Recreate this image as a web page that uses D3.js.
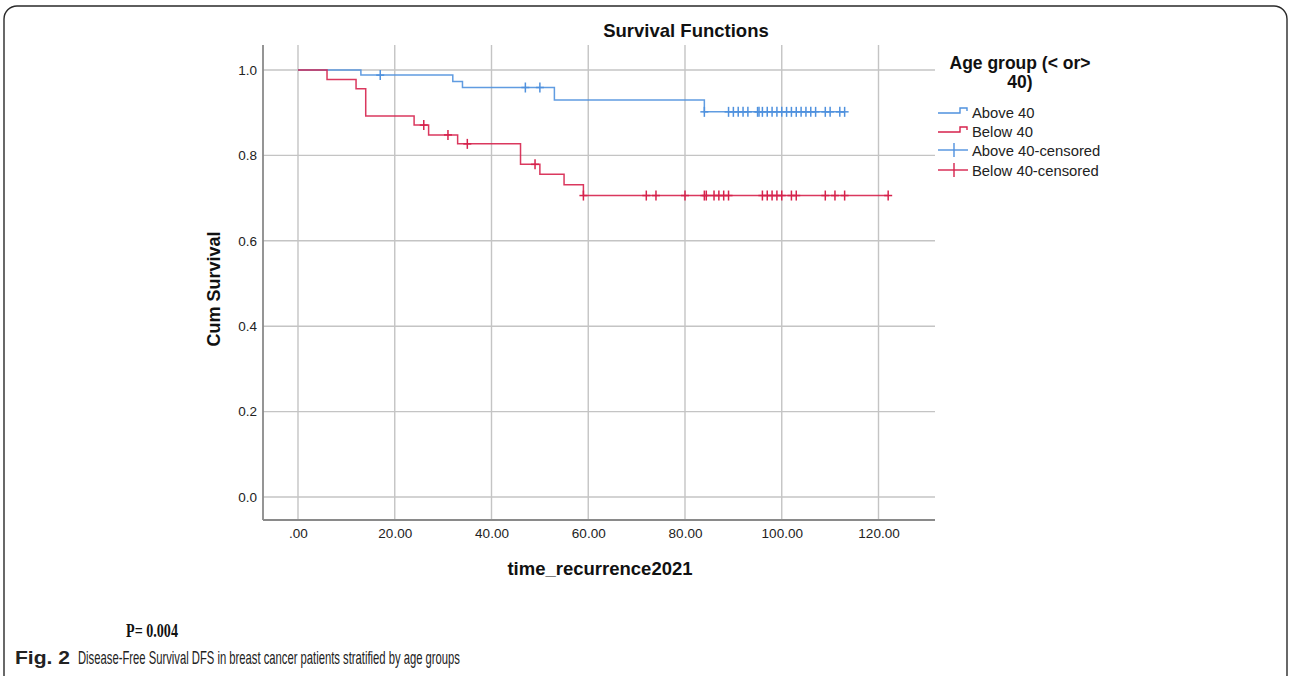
<!DOCTYPE html>
<html>
<head>
<meta charset="utf-8">
<script src="https://cdn.jsdelivr.net/npm/d3@7"></script>
<style>
  html, body { margin: 0; padding: 0; background: #fff; }
  svg { display: block; }
</style>
</head>
<body>
<svg id="chart" width="1290" height="676"></svg>
<script>
// ---------- data ----------
const xTicks = [0, 20, 40, 60, 80, 100, 120];
const xTickLabels = [".00", "20.00", "40.00", "60.00", "80.00", "100.00", "120.00"];
const yTicks = [0, 0.2, 0.4, 0.6, 0.8, 1.0];
const yTickLabels = ["0.0", "0.2", "0.4", "0.6", "0.8", "1.0"];

const aboveTimes = [0, 13, 32, 34, 53, 84];
const aboveSurv  = [1.0, 0.988, 0.973, 0.959, 0.930, 0.902];
const aboveCensored = [17, 47, 50, 84, 89, 90, 91, 92, 93, 95, 95.3, 96, 97, 98, 99, 100, 101, 102, 103, 104, 105, 106, 107, 109, 110, 112, 113];

const belowTimes = [0, 6, 12, 14, 24, 27, 33, 46, 50, 55, 59];
const belowSurv  = [1.0, 0.978, 0.956, 0.892, 0.871, 0.848, 0.827, 0.779, 0.756, 0.731, 0.706];
const belowCensored = [26, 31, 35, 49, 59, 72, 74, 80, 84, 84.4, 86, 87, 88, 89, 96, 97, 98, 99, 100, 102, 103, 109, 111, 113, 122];

const legendTitle = ["Age group (< or>", "40)"];
const legendLabels = ["Above 40", "Below 40", "Above 40-censored", "Below 40-censored"];

// ---------- styles ----------
const BLUE = "#4f91de";
const RED = "#d6224c";
const GRID = "#c4c4c4";
const AXIS = "#8a8a8a";
const FONT = "'Liberation Sans', Arial, sans-serif";

const svg = d3.select("#chart");

// card border
svg.append("rect")
  .attr("x", 4).attr("y", 6).attr("width", 1283).attr("height", 682)
  .attr("rx", 13).attr("ry", 13)
  .attr("fill", "none").attr("stroke", "#2a2a2a").attr("stroke-width", 1.4);

// plot frame
const frame = { left: 263, right: 935, top: 45, bottom: 520 };
const x = d3.scaleLinear().domain([0, 120]).range([298, 878.5]);
const y = d3.scaleLinear().domain([0, 1]).range([497, 70]);

const g = svg.append("g");

// grid lines
g.selectAll("line.vgrid").data(xTicks).enter().append("line")
  .attr("x1", d => x(d)).attr("x2", d => x(d))
  .attr("y1", frame.top).attr("y2", frame.bottom)
  .attr("stroke", GRID).attr("stroke-width", 1.4);
g.selectAll("line.hgrid").data(yTicks).enter().append("line")
  .attr("x1", frame.left).attr("x2", frame.right)
  .attr("y1", d => y(d)).attr("y2", d => y(d))
  .attr("stroke", GRID).attr("stroke-width", 1.4);

// axes lines
g.append("line").attr("x1", frame.left).attr("x2", frame.left)
  .attr("y1", frame.top).attr("y2", frame.bottom)
  .attr("stroke", AXIS).attr("stroke-width", 1.8);
g.append("line").attr("x1", frame.left).attr("x2", frame.right)
  .attr("y1", frame.bottom).attr("y2", frame.bottom)
  .attr("stroke", AXIS).attr("stroke-width", 1.8);

// tick labels via d3 axes (no tick lines / domain)
const xAxis = d3.axisBottom(x).tickValues(xTicks).tickSize(0).tickPadding(0)
  .tickFormat((d, i) => xTickLabels[i]);
const xa = g.append("g").attr("transform", `translate(0,${frame.bottom + 8})`).call(xAxis);
xa.select(".domain").remove();
xa.selectAll("text").attr("font-family", FONT).attr("font-size", 13.5).attr("fill", "#222");

const yAxis = d3.axisLeft(y).tickValues(yTicks).tickSize(0).tickPadding(0)
  .tickFormat((d, i) => yTickLabels[i]);
const ya = g.append("g").attr("transform", `translate(${frame.left - 6},0)`).call(yAxis);
ya.select(".domain").remove();
ya.selectAll("text").attr("font-family", FONT).attr("font-size", 13.5).attr("fill", "#222");

// ---------- curves ----------
function stepPath(times, surv, endTime) {
  let p = `M${x(times[0])},${y(surv[0])}`;
  for (let i = 1; i < times.length; i++) {
    p += `H${x(times[i])}V${y(surv[i])}`;
  }
  p += `H${x(endTime)}`;
  return p;
}
function survAt(times, surv, t) {
  let s = surv[0];
  for (let i = 0; i < times.length; i++) if (times[i] <= t) s = surv[i];
  return s;
}

const groups = [
  { times: aboveTimes, surv: aboveSurv, cens: aboveCensored, color: BLUE },
  { times: belowTimes, surv: belowSurv, cens: belowCensored, color: RED }
];

groups.forEach(gr => {
  g.append("path")
    .attr("d", stepPath(gr.times, gr.surv, d3.max(gr.cens)))
    .attr("fill", "none").attr("stroke", gr.color).attr("stroke-width", 1.5)
    .attr("opacity", 0.9);
  const marks = g.append("g");
  marks.selectAll("line.cv").data(gr.cens).enter().append("line")
    .attr("x1", d => x(d)).attr("x2", d => x(d))
    .attr("y1", d => y(survAt(gr.times, gr.surv, d)) - 5)
    .attr("y2", d => y(survAt(gr.times, gr.surv, d)) + 5)
    .attr("stroke", gr.color).attr("stroke-width", 1.5);
  marks.selectAll("line.ch").data(gr.cens).enter().append("line")
    .attr("x1", d => x(d) - 4).attr("x2", d => x(d) + 4)
    .attr("y1", d => y(survAt(gr.times, gr.surv, d)))
    .attr("y2", d => y(survAt(gr.times, gr.surv, d)))
    .attr("stroke", gr.color).attr("stroke-width", 1.5);
});

// ---------- titles ----------
svg.append("text").attr("x", 686).attr("y", 37).attr("text-anchor", "middle")
  .attr("font-family", FONT).attr("font-weight", "bold").attr("font-size", 18.5)
  .attr("fill", "#111").text("Survival Functions");

svg.append("text").attr("transform", "translate(220,289) rotate(-90)")
  .attr("text-anchor", "middle")
  .attr("font-family", FONT).attr("font-weight", "bold").attr("font-size", 18)
  .attr("fill", "#111").text("Cum Survival");

svg.append("text").attr("x", 600).attr("y", 575).attr("text-anchor", "middle")
  .attr("font-family", FONT).attr("font-weight", "bold").attr("font-size", 18.5)
  .attr("fill", "#111").text("time_recurrence2021");

// ---------- legend ----------
const lg = svg.append("g");
lg.selectAll("text.lt").data(legendTitle).enter().append("text")
  .attr("x", 1020).attr("y", (d, i) => 69 + i * 19).attr("text-anchor", "middle")
  .attr("font-family", FONT).attr("font-weight", "bold").attr("font-size", 17.5)
  .attr("fill", "#111").text(d => d);

const legColors = [BLUE, RED, BLUE, RED];
const legY = [112, 131, 150, 170];
legendLabels.forEach((lab, i) => {
  const yy = legY[i];
  if (i < 2) {
    lg.append("path")
      .attr("d", `M938,${yy + 1}H960V${yy - 4}H967V${yy - 1}`)
      .attr("fill", "none").attr("stroke", legColors[i]).attr("stroke-width", 1.4);
  } else {
    lg.append("line").attr("x1", 938).attr("x2", 968).attr("y1", yy).attr("y2", yy)
      .attr("stroke", legColors[i]).attr("stroke-width", 1.4);
    lg.append("line").attr("x1", 954).attr("x2", 954).attr("y1", yy - 7).attr("y2", yy + 7)
      .attr("stroke", legColors[i]).attr("stroke-width", 1.4);
  }
  lg.append("text").attr("x", 972).attr("y", yy + 5.5)
    .attr("font-family", FONT).attr("font-size", 14.8).attr("fill", "#222").text(lab);
});

// ---------- captions ----------
svg.append("text").attr("x", 126).attr("y", 637)
  .attr("font-family", "'Liberation Serif', 'Times New Roman', serif")
  .attr("font-weight", "bold").attr("font-size", 19).attr("fill", "#111")
  .attr("textLength", 52).attr("lengthAdjust", "spacingAndGlyphs")
  .text("P= 0.004");

svg.append("text").attr("x", 15).attr("y", 664)
  .attr("font-family", FONT).attr("font-weight", "bold")
  .attr("font-size", 18).attr("fill", "#222")
  .attr("textLength", 55).attr("lengthAdjust", "spacingAndGlyphs")
  .text("Fig. 2");
svg.append("text").attr("x", 78).attr("y", 664)
  .attr("font-family", FONT)
  .attr("font-size", 18.5).attr("fill", "#222")
  .attr("textLength", 382).attr("lengthAdjust", "spacingAndGlyphs")
  .text("Disease-Free Survival DFS in breast cancer patients stratified by age groups");
</script>
</body>
</html>
